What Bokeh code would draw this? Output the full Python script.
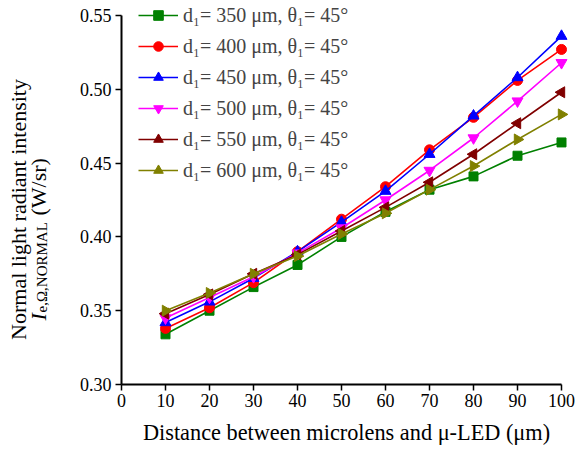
import numpy as np
from bokeh.plotting import figure
from bokeh.models import Label, Legend, LegendItem, FixedTicker, Range1d
from bokeh.embed import file_html
from bokeh.resources import INLINE

# ---- data ----
distance = [10, 20, 30, 40, 50, 60, 70, 80, 90, 100]
d350 = [0.334, 0.350, 0.366, 0.381, 0.400, 0.417, 0.432, 0.441, 0.455, 0.464]
d400 = [0.338, 0.352, 0.369, 0.390, 0.412, 0.434, 0.459, 0.481, 0.506, 0.527]
d450 = [0.342, 0.356, 0.372, 0.390, 0.410, 0.431, 0.456, 0.482, 0.508, 0.536]
d500 = [0.345, 0.359, 0.373, 0.389, 0.406, 0.425, 0.445, 0.467, 0.492, 0.518]
d550 = [0.348, 0.361, 0.375, 0.388, 0.404, 0.420, 0.437, 0.456, 0.477, 0.498]
d600 = [0.350, 0.362, 0.375, 0.387, 0.402, 0.416, 0.432, 0.448, 0.466, 0.483]

series_labels = ["d\u2081= 350 \u03bcm, \u03b8\u2081= 45\u00b0",
                 "d\u2081= 400 \u03bcm, \u03b8\u2081= 45\u00b0",
                 "d\u2081= 450 \u03bcm, \u03b8\u2081= 45\u00b0",
                 "d\u2081= 500 \u03bcm, \u03b8\u2081= 45\u00b0",
                 "d\u2081= 550 \u03bcm, \u03b8\u2081= 45\u00b0",
                 "d\u2081= 600 \u03bcm, \u03b8\u2081= 45\u00b0"]
x_ticks = [0, 10, 20, 30, 40, 50, 60, 70, 80, 90, 100]
y_ticks = [0.30, 0.35, 0.40, 0.45, 0.50, 0.55]
x_title = "Distance between microlens and \u03bc-LED (\u03bcm)"
y_title = "Normal light radiant intensity"

series = [d350, d400, d450, d500, d550, d600]
colors = ["#008000", "#ff0000", "#0000ff", "#ff00ff", "#800000", "#808000"]
markers = ["square", "circle", "triangle", "inverted_triangle", "triangle", "triangle"]
angles = [0, 0, 0, 0, np.pi / 2, -np.pi / 2]
sizes = [9, 10, 11, 11, 11, 11]

FONT = "Liberation Serif"
W, H = 578, 448
# pixel placement of the axes inside the canvas
X0_PX, X1_PX = 121, 561
Y0_PX, Y1_PX = 384, 15
xs = (X1_PX - X0_PX) / (x_ticks[-1] - x_ticks[0])
ys_ = (Y0_PX - Y1_PX) / (y_ticks[-1] - y_ticks[0])

p = figure(width=W, height=H, output_backend="svg", toolbar_location=None,
           x_range=Range1d(x_ticks[0] - X0_PX / xs, x_ticks[-1] + (W - X1_PX) / xs),
           y_range=Range1d(y_ticks[0] - (H - Y0_PX) / ys_, y_ticks[-1] + Y1_PX / ys_),
           min_border_left=0, min_border_right=0, min_border_top=0,
           min_border_bottom=0)
p.outline_line_color = None
p.xgrid.visible = False
p.ygrid.visible = False
p.background_fill_color = "white"
p.border_fill_color = "white"

for ax in (p.xaxis, p.yaxis):
    ax.axis_line_width = 2
    ax.axis_line_color = "black"
    ax.major_tick_line_width = 1.5
    ax.major_tick_line_color = "black"
    ax.major_tick_out = 6
    ax.major_tick_in = 0
    ax.minor_tick_line_color = None
    ax.major_label_text_font = FONT
    ax.major_label_text_font_size = "18px"
    ax.major_label_text_color = "black"

p.xaxis.ticker = FixedTicker(ticks=x_ticks)
p.yaxis.ticker = FixedTicker(ticks=y_ticks)
p.xaxis.bounds = (x_ticks[0], x_ticks[-1])
p.yaxis.bounds = (y_ticks[0], y_ticks[-1])
p.xaxis.fixed_location = y_ticks[0]
p.yaxis.fixed_location = x_ticks[0]
p.yaxis.major_label_overrides = {t: f"{t:.2f}" for t in y_ticks}
p.xaxis.major_label_standoff = 3
p.yaxis.major_label_standoff = 4

items = []
for ys, c, m, a, s, lab in zip(series, colors, markers, angles, sizes, series_labels):
    lr = p.line(distance, ys, line_color=c, line_width=1.6)
    sr = p.scatter(distance, ys, marker=m, angle=a, size=s, fill_color=c,
                   line_color=c)
    items.append(LegendItem(label=lab, renderers=[lr, sr]))

legend = Legend(items=items, location=(138, 266), orientation="vertical",
                border_line_color=None, background_fill_alpha=0,
                padding=0, margin=0, spacing=7,
                label_text_font=FONT, label_text_font_size="20px",
                label_height=24, glyph_height=24, glyph_width=40,
                label_standoff=5)
p.add_layout(legend, "center")


def px_x(px):
    return x_ticks[0] + (px - X0_PX) / xs


def px_y(py):
    return y_ticks[0] + (Y0_PX - py) / ys_


# axis titles
p.add_layout(Label(x=px_x(346), y=px_y(432), text=x_title, text_font=FONT,
                   text_font_size="22.3px", text_align="center",
                   text_baseline="middle", text_color="black"))
p.add_layout(Label(x=px_x(18), y=px_y(209), text=y_title, text_font=FONT,
                   text_font_size="22px", text_align="center",
                   text_baseline="middle", text_color="black", angle=np.pi / 2))

# second line of the y-axis title: I_{e,Omega,NORMAL} (W/sr)
common = dict(angle=np.pi / 2, text_font=FONT, text_color="black",
              text_align="left", text_baseline="alphabetic")
p.add_layout(Label(x=px_x(38), y=px_y(320), text="I", text_font_style="italic",
                   text_font_size="22px", **common))
p.add_layout(Label(x=px_x(41), y=px_y(312), text="e,\u03a9,NORMAL",
                   text_font_size="15px", **common))
p.add_layout(Label(x=px_x(38), y=px_y(215), text="(W/sr)",
                   text_font_size="22px", **common))

open("out.html", "w").write(file_html(p, INLINE))
